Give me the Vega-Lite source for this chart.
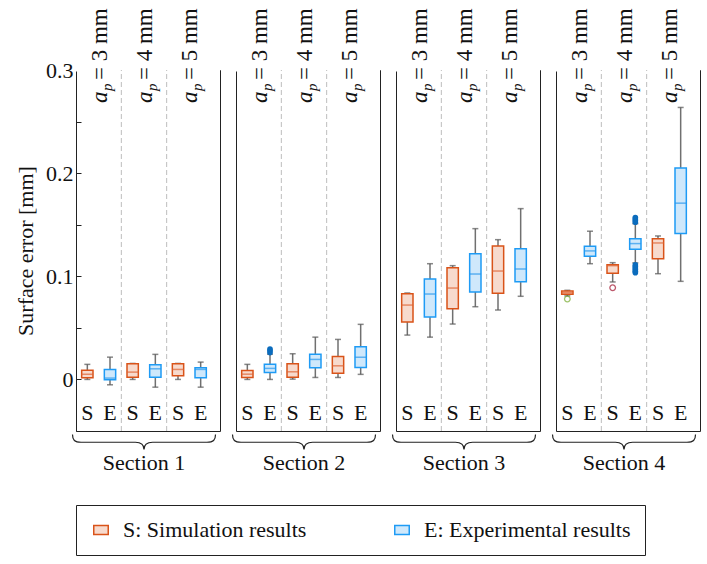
{
  "$schema": "https://vega.github.io/schema/vega-lite/v6.json",
  "padding": {"left": 14, "top": 7, "right": 5, "bottom": 0},
  "config": {
    "font": "Liberation Serif",
    "view": {"stroke": "#222", "strokeWidth": 1},
    "axisY": {
      "labelFont": "Liberation Serif", "labelFontSize": 22, "labelColor": "#111",
      "titleFont": "Liberation Serif", "titleFontSize": 22, "titleFontWeight": "normal", "titleColor": "#111",
      "tickColor": "#222", "domainColor": "#222", "tickSize": -5, "labelPadding": 8, "titlePadding": 8,
      "grid": false, "zindex": 1
    },
    "legend": {
      "orient": "bottom", "direction": "horizontal",
      "labelFont": "Liberation Serif", "labelFontSize": 22, "labelColor": "#111", "labelOffset": 11, "labelLimit": 500,
      "symbolType": "M-1,-0.62H1V0.62H-1Z", "symbolSize": 210, "symbolStrokeWidth": 1.5,
      "strokeColor": "#222", "padding": 14, "columnPadding": 84, "offset": 30
    }
  },
  "data": {"values": [
    {"kind": "box", "section": "Section 1", "ap": "3", "type": "S", "lo": 0, "q1": 0.0016, "med": 0.005, "q3": 0.009, "hi": 0.0146},
    {"kind": "box", "section": "Section 1", "ap": "3", "type": "E", "lo": -0.0052, "q1": -0.0003, "med": 0.0013, "q3": 0.0097, "hi": 0.0216},
    {"kind": "box", "section": "Section 1", "ap": "4", "type": "S", "lo": 0, "q1": 0.0022, "med": 0.0071, "q3": 0.0151, "hi": 0.0155},
    {"kind": "box", "section": "Section 1", "ap": "4", "type": "E", "lo": -0.0075, "q1": 0.0022, "med": 0.0103, "q3": 0.0142, "hi": 0.0243},
    {"kind": "box", "section": "Section 1", "ap": "5", "type": "S", "lo": 0, "q1": 0.0035, "med": 0.0097, "q3": 0.0151, "hi": 0.0155},
    {"kind": "box", "section": "Section 1", "ap": "5", "type": "E", "lo": -0.0075, "q1": 0.0016, "med": 0.0097, "q3": 0.0113, "hi": 0.0168},
    {"kind": "box", "section": "Section 2", "ap": "3", "type": "S", "lo": 0, "q1": 0.0019, "med": 0.0051, "q3": 0.0087, "hi": 0.0146},
    {"kind": "box", "section": "Section 2", "ap": "3", "type": "E", "lo": 0, "q1": 0.0068, "med": 0.0107, "q3": 0.0146, "hi": 0.0245},
    {"kind": "box", "section": "Section 2", "ap": "4", "type": "S", "lo": 0.0003, "q1": 0.0022, "med": 0.0074, "q3": 0.0151, "hi": 0.0249},
    {"kind": "box", "section": "Section 2", "ap": "4", "type": "E", "lo": 0.0019, "q1": 0.0113, "med": 0.0194, "q3": 0.0243, "hi": 0.041},
    {"kind": "box", "section": "Section 2", "ap": "5", "type": "S", "lo": 0.0019, "q1": 0.0061, "med": 0.0132, "q3": 0.0223, "hi": 0.0388},
    {"kind": "box", "section": "Section 2", "ap": "5", "type": "E", "lo": 0.0049, "q1": 0.0116, "med": 0.0216, "q3": 0.0316, "hi": 0.0534},
    {"kind": "box", "section": "Section 3", "ap": "3", "type": "S", "lo": 0.043, "q1": 0.0556, "med": 0.0721, "q3": 0.0831, "hi": 0.0838},
    {"kind": "box", "section": "Section 3", "ap": "3", "type": "E", "lo": 0.041, "q1": 0.0605, "med": 0.0828, "q3": 0.0974, "hi": 0.1122},
    {"kind": "box", "section": "Section 3", "ap": "4", "type": "S", "lo": 0.0537, "q1": 0.0685, "med": 0.0886, "q3": 0.1083, "hi": 0.1103},
    {"kind": "box", "section": "Section 3", "ap": "4", "type": "E", "lo": 0.0705, "q1": 0.0848, "med": 0.1022, "q3": 0.1219, "hi": 0.1462},
    {"kind": "box", "section": "Section 3", "ap": "5", "type": "S", "lo": 0.0673, "q1": 0.0835, "med": 0.1051, "q3": 0.1294, "hi": 0.1355},
    {"kind": "box", "section": "Section 3", "ap": "5", "type": "E", "lo": 0.0806, "q1": 0.0948, "med": 0.1071, "q3": 0.1268, "hi": 0.1656},
    {"kind": "box", "section": "Section 4", "ap": "3", "type": "S", "lo": 0.081, "q1": 0.0825, "med": 0.0841, "q3": 0.0857, "hi": 0.0864},
    {"kind": "box", "section": "Section 4", "ap": "3", "type": "E", "lo": 0.1122, "q1": 0.1194, "med": 0.1246, "q3": 0.1291, "hi": 0.1437},
    {"kind": "box", "section": "Section 4", "ap": "4", "type": "S", "lo": 0.0945, "q1": 0.1029, "med": 0.1103, "q3": 0.1113, "hi": 0.1132},
    {"kind": "box", "section": "Section 4", "ap": "4", "type": "E", "lo": 0.113, "q1": 0.1262, "med": 0.1317, "q3": 0.1365, "hi": 0.151},
    {"kind": "box", "section": "Section 4", "ap": "5", "type": "S", "lo": 0.1025, "q1": 0.1171, "med": 0.1323, "q3": 0.1365, "hi": 0.1391},
    {"kind": "box", "section": "Section 4", "ap": "5", "type": "E", "lo": 0.0951, "q1": 0.1414, "med": 0.1709, "q3": 0.2051, "hi": 0.2637},
    {"kind": "out", "section": "Section 2", "ap": "3", "type": "E", "v": 0.026},
    {"kind": "out", "section": "Section 2", "ap": "3", "type": "E", "v": 0.028},
    {"kind": "out", "section": "Section 2", "ap": "3", "type": "E", "v": 0.0295},
    {"kind": "out", "section": "Section 4", "ap": "3", "type": "S", "v": 0.078},
    {"kind": "out", "section": "Section 4", "ap": "4", "type": "S", "v": 0.0889},
    {"kind": "out", "section": "Section 4", "ap": "4", "type": "E", "v": 0.1525},
    {"kind": "out", "section": "Section 4", "ap": "4", "type": "E", "v": 0.154},
    {"kind": "out", "section": "Section 4", "ap": "4", "type": "E", "v": 0.1555},
    {"kind": "out", "section": "Section 4", "ap": "4", "type": "E", "v": 0.157},
    {"kind": "out", "section": "Section 4", "ap": "4", "type": "E", "v": 0.1035},
    {"kind": "out", "section": "Section 4", "ap": "4", "type": "E", "v": 0.105},
    {"kind": "out", "section": "Section 4", "ap": "4", "type": "E", "v": 0.1065},
    {"kind": "out", "section": "Section 4", "ap": "4", "type": "E", "v": 0.108},
    {"kind": "out", "section": "Section 4", "ap": "4", "type": "E", "v": 0.1095},
    {"kind": "out", "section": "Section 4", "ap": "4", "type": "E", "v": 0.111}
  ]},
  "transform": [{"calculate": "datum.ap + datum.type", "as": "slot"}, {"calculate": "'= ' + datum.ap + ' mm'", "as": "aplabel"}],
  "spacing": 16,
  "bounds": "flush",
  "resolve": {"scale": {"fill": "shared", "stroke": "shared", "color": "shared"}, "legend": {"fill": "shared", "stroke": "shared"}},
  "hconcat": [
    {
      "width": 144, "height": 361,
      "transform": [{"filter": "datum.section=='Section 1'"}],
      "resolve": {"axis": {"y": "independent"}},
      "layer": [
        {"transform": [{"filter": "datum.kind=='box'"}], "mark": {"type": "rule", "stroke": "#707070", "strokeWidth": 1.5},
         "encoding": {"x": {"field": "slot", "type": "nominal", "axis": null, "scale": {"domain": ["3S", "3E", "4S", "4E", "5S", "5E"], "range": [0, 136], "paddingInner": 0.5, "paddingOuter": 0.25}},
           "y": {"field": "lo", "type": "quantitative", "scale": {"domain": [-0.05, 0.3], "nice": false, "zero": false},
             "axis": {"orient": "left", "title": "Surface error [mm]", "values": [0, 0.05, 0.1, 0.15, 0.2, 0.25, 0.3], "labelExpr": "round(datum.value*100) % 10 == 0 ? format(datum.value, '~g') : ''"}},
           "y2": {"field": "hi"}}},
        {"transform": [{"filter": "datum.kind=='box' && datum.slot=='4S'"}], "mark": {"type": "rule", "stroke": "white", "strokeWidth": 3},
         "encoding": {"y": {"datum": 0.3, "type": "quantitative", "axis": null}}},
        {"transform": [{"filter": "datum.kind=='box' && (datum.slot=='3E' || datum.slot=='4E')"}], "mark": {"type": "rule", "stroke": "#bdbdbd", "strokeWidth": 1, "strokeDash": [5, 3]},
         "encoding": {"x": {"field": "slot", "type": "nominal", "bandPosition": 1.5, "axis": null}, "y": {"datum": -0.05, "type": "quantitative", "axis": null}, "y2": {"datum": 0.3}}},
        {"transform": [{"filter": "datum.kind=='box'"}], "mark": {"type": "tick", "size": 6, "thickness": 1.5, "color": "#555"},
         "encoding": {"x": {"field": "slot", "type": "nominal", "axis": null}, "y": {"field": "lo", "type": "quantitative", "axis": null}}},
        {"transform": [{"filter": "datum.kind=='box'"}], "mark": {"type": "tick", "size": 6, "thickness": 1.5, "color": "#555"},
         "encoding": {"x": {"field": "slot", "type": "nominal", "axis": null}, "y": {"field": "hi", "type": "quantitative", "axis": null}}},
        {"transform": [{"filter": "datum.kind=='box'"}], "mark": {"type": "bar", "strokeWidth": 1.5},
         "encoding": {"x": {"field": "slot", "type": "nominal", "axis": null}, "y": {"field": "q1", "type": "quantitative", "axis": null}, "y2": {"field": "q3"},
           "fill": {"field": "type", "type": "nominal", "scale": {"domain": ["S", "E"], "range": ["#F7DACD", "#CFE8FB"]},
             "legend": {"title": null, "labelExpr": "datum.label == 'S' ? 'S: Simulation results' : 'E: Experimental results'"}},
           "stroke": {"field": "type", "type": "nominal", "scale": {"domain": ["S", "E"], "range": ["#D95319", "#1E9BF5"]},
             "legend": {"title": null, "labelExpr": "datum.label == 'S' ? 'S: Simulation results' : 'E: Experimental results'"}}}},
        {"transform": [{"filter": "datum.kind=='box'"}], "mark": {"type": "tick", "size": 11.5, "thickness": 1.5},
         "encoding": {"x": {"field": "slot", "type": "nominal", "axis": null}, "y": {"field": "med", "type": "quantitative", "axis": null},
           "color": {"field": "type", "type": "nominal", "scale": {"domain": ["S", "E"], "range": ["#DE6536", "#2A98EC"]}, "legend": null}}},
        {"transform": [{"filter": "datum.kind=='box'"}], "mark": {"type": "text", "fontSize": 22, "baseline": "middle", "color": "#111"},
         "encoding": {"x": {"field": "slot", "type": "nominal", "axis": null}, "y": {"datum": -0.033, "type": "quantitative", "axis": null}, "text": {"field": "type"}}},
        {"transform": [{"filter": "datum.kind=='box' && datum.type=='S'"}], "mark": {"type": "text", "fontSize": 23, "fontStyle": "italic", "angle": 270, "align": "left", "baseline": "alphabetic", "dx": -33, "dy": 8, "color": "#111"},
         "encoding": {"x": {"field": "slot", "type": "nominal", "bandPosition": 1.5, "axis": null}, "y": {"datum": 0.3, "type": "quantitative", "axis": null}, "text": {"value": "a"}}},
        {"transform": [{"filter": "datum.kind=='box' && datum.type=='S'"}], "mark": {"type": "text", "fontSize": 15, "fontStyle": "italic", "angle": 270, "align": "left", "baseline": "alphabetic", "dx": -21, "dy": 13, "color": "#111"},
         "encoding": {"x": {"field": "slot", "type": "nominal", "bandPosition": 1.5, "axis": null}, "y": {"datum": 0.3, "type": "quantitative", "axis": null}, "text": {"value": "p"}}},
        {"transform": [{"filter": "datum.kind=='box' && datum.type=='S'"}], "mark": {"type": "text", "fontSize": 23, "angle": 270, "align": "left", "baseline": "alphabetic", "dx": -10, "dy": 8, "color": "#111"},
         "encoding": {"x": {"field": "slot", "type": "nominal", "bandPosition": 1.5, "axis": null}, "y": {"datum": 0.3, "type": "quantitative", "axis": null}, "text": {"field": "aplabel"}}},
        {"transform": [{"filter": "datum.kind=='box' && datum.slot=='4S'"}], "mark": {"type": "point", "filled": false, "stroke": "#222", "strokeWidth": 1.2, "opacity": 1, "size": 20449, "shape": "M -1 -0.11 C -1 -0.03 -0.97 0 -0.88 0 L -0.12 0 C -0.04 0 0 0.04 0 0.1 C 0 0.04 0.04 0 0.12 0 L 0.88 0 C 0.97 0 1 -0.03 1 -0.11"},
         "encoding": {"x": {"field": "slot", "type": "nominal", "bandPosition": 1.5, "axis": null}, "y": {"datum": -0.0609, "type": "quantitative", "axis": null}}},
        {"transform": [{"filter": "datum.kind=='box' && datum.slot=='4S'"}], "mark": {"type": "text", "fontSize": 22, "baseline": "middle", "color": "#111"},
         "encoding": {"x": {"field": "slot", "type": "nominal", "bandPosition": 1.5, "axis": null}, "y": {"datum": -0.0813, "type": "quantitative", "axis": null}, "text": {"field": "section"}}}
      ]
    },
    {
      "width": 144, "height": 361,
      "transform": [{"filter": "datum.section=='Section 2'"}],
      "layer": [
        {"transform": [{"filter": "datum.kind=='box'"}], "mark": {"type": "rule", "stroke": "#707070", "strokeWidth": 1.5},
         "encoding": {"x": {"field": "slot", "type": "nominal", "axis": null, "scale": {"domain": ["3S", "3E", "4S", "4E", "5S", "5E"], "range": [0, 136], "paddingInner": 0.5, "paddingOuter": 0.25}},
           "y": {"field": "lo", "type": "quantitative", "scale": {"domain": [-0.05, 0.3], "nice": false, "zero": false}, "axis": null},
           "y2": {"field": "hi"}}},
        {"transform": [{"filter": "datum.kind=='box' && datum.slot=='4S'"}], "mark": {"type": "rule", "stroke": "white", "strokeWidth": 3},
         "encoding": {"y": {"datum": 0.3, "type": "quantitative", "axis": null}}},
        {"transform": [{"filter": "datum.kind=='box' && (datum.slot=='3E' || datum.slot=='4E')"}], "mark": {"type": "rule", "stroke": "#bdbdbd", "strokeWidth": 1, "strokeDash": [5, 3]},
         "encoding": {"x": {"field": "slot", "type": "nominal", "bandPosition": 1.5, "axis": null}, "y": {"datum": -0.05, "type": "quantitative", "axis": null}, "y2": {"datum": 0.3}}},
        {"transform": [{"filter": "datum.kind=='box'"}], "mark": {"type": "tick", "size": 6, "thickness": 1.5, "color": "#555"},
         "encoding": {"x": {"field": "slot", "type": "nominal", "axis": null}, "y": {"field": "lo", "type": "quantitative", "axis": null}}},
        {"transform": [{"filter": "datum.kind=='box'"}], "mark": {"type": "tick", "size": 6, "thickness": 1.5, "color": "#555"},
         "encoding": {"x": {"field": "slot", "type": "nominal", "axis": null}, "y": {"field": "hi", "type": "quantitative", "axis": null}}},
        {"transform": [{"filter": "datum.kind=='box'"}], "mark": {"type": "bar", "strokeWidth": 1.5},
         "encoding": {"x": {"field": "slot", "type": "nominal", "axis": null}, "y": {"field": "q1", "type": "quantitative", "axis": null}, "y2": {"field": "q3"},
           "fill": {"field": "type", "type": "nominal", "scale": {"domain": ["S", "E"], "range": ["#F7DACD", "#CFE8FB"]},
             "legend": {"title": null, "labelExpr": "datum.label == 'S' ? 'S: Simulation results' : 'E: Experimental results'"}},
           "stroke": {"field": "type", "type": "nominal", "scale": {"domain": ["S", "E"], "range": ["#D95319", "#1E9BF5"]},
             "legend": {"title": null, "labelExpr": "datum.label == 'S' ? 'S: Simulation results' : 'E: Experimental results'"}}}},
        {"transform": [{"filter": "datum.kind=='box'"}], "mark": {"type": "tick", "size": 11.5, "thickness": 1.5},
         "encoding": {"x": {"field": "slot", "type": "nominal", "axis": null}, "y": {"field": "med", "type": "quantitative", "axis": null},
           "color": {"field": "type", "type": "nominal", "scale": {"domain": ["S", "E"], "range": ["#DE6536", "#2A98EC"]}, "legend": null}}},
        {"transform": [{"filter": "datum.kind=='out' && datum.type=='E'"}], "mark": {"type": "point", "filled": true, "size": 32, "color": "#0B6CBD", "opacity": 1},
         "encoding": {"x": {"field": "slot", "type": "nominal", "axis": null}, "y": {"field": "v", "type": "quantitative", "axis": null}}},
        {"transform": [{"filter": "datum.kind=='box'"}], "mark": {"type": "text", "fontSize": 22, "baseline": "middle", "color": "#111"},
         "encoding": {"x": {"field": "slot", "type": "nominal", "axis": null}, "y": {"datum": -0.033, "type": "quantitative", "axis": null}, "text": {"field": "type"}}},
        {"transform": [{"filter": "datum.kind=='box' && datum.type=='S'"}], "mark": {"type": "text", "fontSize": 23, "fontStyle": "italic", "angle": 270, "align": "left", "baseline": "alphabetic", "dx": -33, "dy": 8, "color": "#111"},
         "encoding": {"x": {"field": "slot", "type": "nominal", "bandPosition": 1.5, "axis": null}, "y": {"datum": 0.3, "type": "quantitative", "axis": null}, "text": {"value": "a"}}},
        {"transform": [{"filter": "datum.kind=='box' && datum.type=='S'"}], "mark": {"type": "text", "fontSize": 15, "fontStyle": "italic", "angle": 270, "align": "left", "baseline": "alphabetic", "dx": -21, "dy": 13, "color": "#111"},
         "encoding": {"x": {"field": "slot", "type": "nominal", "bandPosition": 1.5, "axis": null}, "y": {"datum": 0.3, "type": "quantitative", "axis": null}, "text": {"value": "p"}}},
        {"transform": [{"filter": "datum.kind=='box' && datum.type=='S'"}], "mark": {"type": "text", "fontSize": 23, "angle": 270, "align": "left", "baseline": "alphabetic", "dx": -10, "dy": 8, "color": "#111"},
         "encoding": {"x": {"field": "slot", "type": "nominal", "bandPosition": 1.5, "axis": null}, "y": {"datum": 0.3, "type": "quantitative", "axis": null}, "text": {"field": "aplabel"}}},
        {"transform": [{"filter": "datum.kind=='box' && datum.slot=='4S'"}], "mark": {"type": "point", "filled": false, "stroke": "#222", "strokeWidth": 1.2, "opacity": 1, "size": 20449, "shape": "M -1 -0.11 C -1 -0.03 -0.97 0 -0.88 0 L -0.12 0 C -0.04 0 0 0.04 0 0.1 C 0 0.04 0.04 0 0.12 0 L 0.88 0 C 0.97 0 1 -0.03 1 -0.11"},
         "encoding": {"x": {"field": "slot", "type": "nominal", "bandPosition": 1.5, "axis": null}, "y": {"datum": -0.0609, "type": "quantitative", "axis": null}}},
        {"transform": [{"filter": "datum.kind=='box' && datum.slot=='4S'"}], "mark": {"type": "text", "fontSize": 22, "baseline": "middle", "color": "#111"},
         "encoding": {"x": {"field": "slot", "type": "nominal", "bandPosition": 1.5, "axis": null}, "y": {"datum": -0.0813, "type": "quantitative", "axis": null}, "text": {"field": "section"}}}
      ]
    },
    {
      "width": 144, "height": 361,
      "transform": [{"filter": "datum.section=='Section 3'"}],
      "layer": [
        {"transform": [{"filter": "datum.kind=='box'"}], "mark": {"type": "rule", "stroke": "#707070", "strokeWidth": 1.5},
         "encoding": {"x": {"field": "slot", "type": "nominal", "axis": null, "scale": {"domain": ["3S", "3E", "4S", "4E", "5S", "5E"], "range": [0, 136], "paddingInner": 0.5, "paddingOuter": 0.25}},
           "y": {"field": "lo", "type": "quantitative", "scale": {"domain": [-0.05, 0.3], "nice": false, "zero": false}, "axis": null},
           "y2": {"field": "hi"}}},
        {"transform": [{"filter": "datum.kind=='box' && datum.slot=='4S'"}], "mark": {"type": "rule", "stroke": "white", "strokeWidth": 3},
         "encoding": {"y": {"datum": 0.3, "type": "quantitative", "axis": null}}},
        {"transform": [{"filter": "datum.kind=='box' && (datum.slot=='3E' || datum.slot=='4E')"}], "mark": {"type": "rule", "stroke": "#bdbdbd", "strokeWidth": 1, "strokeDash": [5, 3]},
         "encoding": {"x": {"field": "slot", "type": "nominal", "bandPosition": 1.5, "axis": null}, "y": {"datum": -0.05, "type": "quantitative", "axis": null}, "y2": {"datum": 0.3}}},
        {"transform": [{"filter": "datum.kind=='box'"}], "mark": {"type": "tick", "size": 6, "thickness": 1.5, "color": "#555"},
         "encoding": {"x": {"field": "slot", "type": "nominal", "axis": null}, "y": {"field": "lo", "type": "quantitative", "axis": null}}},
        {"transform": [{"filter": "datum.kind=='box'"}], "mark": {"type": "tick", "size": 6, "thickness": 1.5, "color": "#555"},
         "encoding": {"x": {"field": "slot", "type": "nominal", "axis": null}, "y": {"field": "hi", "type": "quantitative", "axis": null}}},
        {"transform": [{"filter": "datum.kind=='box'"}], "mark": {"type": "bar", "strokeWidth": 1.5},
         "encoding": {"x": {"field": "slot", "type": "nominal", "axis": null}, "y": {"field": "q1", "type": "quantitative", "axis": null}, "y2": {"field": "q3"},
           "fill": {"field": "type", "type": "nominal", "scale": {"domain": ["S", "E"], "range": ["#F7DACD", "#CFE8FB"]},
             "legend": {"title": null, "labelExpr": "datum.label == 'S' ? 'S: Simulation results' : 'E: Experimental results'"}},
           "stroke": {"field": "type", "type": "nominal", "scale": {"domain": ["S", "E"], "range": ["#D95319", "#1E9BF5"]},
             "legend": {"title": null, "labelExpr": "datum.label == 'S' ? 'S: Simulation results' : 'E: Experimental results'"}}}},
        {"transform": [{"filter": "datum.kind=='box'"}], "mark": {"type": "tick", "size": 11.5, "thickness": 1.5},
         "encoding": {"x": {"field": "slot", "type": "nominal", "axis": null}, "y": {"field": "med", "type": "quantitative", "axis": null},
           "color": {"field": "type", "type": "nominal", "scale": {"domain": ["S", "E"], "range": ["#DE6536", "#2A98EC"]}, "legend": null}}},
        {"transform": [{"filter": "datum.kind=='box'"}], "mark": {"type": "text", "fontSize": 22, "baseline": "middle", "color": "#111"},
         "encoding": {"x": {"field": "slot", "type": "nominal", "axis": null}, "y": {"datum": -0.033, "type": "quantitative", "axis": null}, "text": {"field": "type"}}},
        {"transform": [{"filter": "datum.kind=='box' && datum.type=='S'"}], "mark": {"type": "text", "fontSize": 23, "fontStyle": "italic", "angle": 270, "align": "left", "baseline": "alphabetic", "dx": -33, "dy": 8, "color": "#111"},
         "encoding": {"x": {"field": "slot", "type": "nominal", "bandPosition": 1.5, "axis": null}, "y": {"datum": 0.3, "type": "quantitative", "axis": null}, "text": {"value": "a"}}},
        {"transform": [{"filter": "datum.kind=='box' && datum.type=='S'"}], "mark": {"type": "text", "fontSize": 15, "fontStyle": "italic", "angle": 270, "align": "left", "baseline": "alphabetic", "dx": -21, "dy": 13, "color": "#111"},
         "encoding": {"x": {"field": "slot", "type": "nominal", "bandPosition": 1.5, "axis": null}, "y": {"datum": 0.3, "type": "quantitative", "axis": null}, "text": {"value": "p"}}},
        {"transform": [{"filter": "datum.kind=='box' && datum.type=='S'"}], "mark": {"type": "text", "fontSize": 23, "angle": 270, "align": "left", "baseline": "alphabetic", "dx": -10, "dy": 8, "color": "#111"},
         "encoding": {"x": {"field": "slot", "type": "nominal", "bandPosition": 1.5, "axis": null}, "y": {"datum": 0.3, "type": "quantitative", "axis": null}, "text": {"field": "aplabel"}}},
        {"transform": [{"filter": "datum.kind=='box' && datum.slot=='4S'"}], "mark": {"type": "point", "filled": false, "stroke": "#222", "strokeWidth": 1.2, "opacity": 1, "size": 20449, "shape": "M -1 -0.11 C -1 -0.03 -0.97 0 -0.88 0 L -0.12 0 C -0.04 0 0 0.04 0 0.1 C 0 0.04 0.04 0 0.12 0 L 0.88 0 C 0.97 0 1 -0.03 1 -0.11"},
         "encoding": {"x": {"field": "slot", "type": "nominal", "bandPosition": 1.5, "axis": null}, "y": {"datum": -0.0609, "type": "quantitative", "axis": null}}},
        {"transform": [{"filter": "datum.kind=='box' && datum.slot=='4S'"}], "mark": {"type": "text", "fontSize": 22, "baseline": "middle", "color": "#111"},
         "encoding": {"x": {"field": "slot", "type": "nominal", "bandPosition": 1.5, "axis": null}, "y": {"datum": -0.0813, "type": "quantitative", "axis": null}, "text": {"field": "section"}}}
      ]
    },
    {
      "width": 144, "height": 361,
      "transform": [{"filter": "datum.section=='Section 4'"}],
      "layer": [
        {"transform": [{"filter": "datum.kind=='box'"}], "mark": {"type": "rule", "stroke": "#707070", "strokeWidth": 1.5},
         "encoding": {"x": {"field": "slot", "type": "nominal", "axis": null, "scale": {"domain": ["3S", "3E", "4S", "4E", "5S", "5E"], "range": [0, 136], "paddingInner": 0.5, "paddingOuter": 0.25}},
           "y": {"field": "lo", "type": "quantitative", "scale": {"domain": [-0.05, 0.3], "nice": false, "zero": false}, "axis": null},
           "y2": {"field": "hi"}}},
        {"transform": [{"filter": "datum.kind=='box' && datum.slot=='4S'"}], "mark": {"type": "rule", "stroke": "white", "strokeWidth": 3},
         "encoding": {"y": {"datum": 0.3, "type": "quantitative", "axis": null}}},
        {"transform": [{"filter": "datum.kind=='box' && (datum.slot=='3E' || datum.slot=='4E')"}], "mark": {"type": "rule", "stroke": "#bdbdbd", "strokeWidth": 1, "strokeDash": [5, 3]},
         "encoding": {"x": {"field": "slot", "type": "nominal", "bandPosition": 1.5, "axis": null}, "y": {"datum": -0.05, "type": "quantitative", "axis": null}, "y2": {"datum": 0.3}}},
        {"transform": [{"filter": "datum.kind=='box'"}], "mark": {"type": "tick", "size": 6, "thickness": 1.5, "color": "#555"},
         "encoding": {"x": {"field": "slot", "type": "nominal", "axis": null}, "y": {"field": "lo", "type": "quantitative", "axis": null}}},
        {"transform": [{"filter": "datum.kind=='box'"}], "mark": {"type": "tick", "size": 6, "thickness": 1.5, "color": "#555"},
         "encoding": {"x": {"field": "slot", "type": "nominal", "axis": null}, "y": {"field": "hi", "type": "quantitative", "axis": null}}},
        {"transform": [{"filter": "datum.kind=='box'"}], "mark": {"type": "bar", "strokeWidth": 1.5},
         "encoding": {"x": {"field": "slot", "type": "nominal", "axis": null}, "y": {"field": "q1", "type": "quantitative", "axis": null}, "y2": {"field": "q3"},
           "fill": {"field": "type", "type": "nominal", "scale": {"domain": ["S", "E"], "range": ["#F7DACD", "#CFE8FB"]},
             "legend": {"title": null, "labelExpr": "datum.label == 'S' ? 'S: Simulation results' : 'E: Experimental results'"}},
           "stroke": {"field": "type", "type": "nominal", "scale": {"domain": ["S", "E"], "range": ["#D95319", "#1E9BF5"]},
             "legend": {"title": null, "labelExpr": "datum.label == 'S' ? 'S: Simulation results' : 'E: Experimental results'"}}}},
        {"transform": [{"filter": "datum.kind=='box'"}], "mark": {"type": "tick", "size": 11.5, "thickness": 1.5},
         "encoding": {"x": {"field": "slot", "type": "nominal", "axis": null}, "y": {"field": "med", "type": "quantitative", "axis": null},
           "color": {"field": "type", "type": "nominal", "scale": {"domain": ["S", "E"], "range": ["#DE6536", "#2A98EC"]}, "legend": null}}},
        {"transform": [{"filter": "datum.kind=='out' && datum.type=='S'"}], "mark": {"type": "point", "filled": false, "size": 32, "strokeWidth": 1.3},
         "encoding": {"x": {"field": "slot", "type": "nominal", "axis": null}, "y": {"field": "v", "type": "quantitative", "axis": null},
           "stroke": {"condition": {"test": "datum.ap=='3'", "value": "#77AC30"}, "value": "#A2142F"}}},
        {"transform": [{"filter": "datum.kind=='out' && datum.type=='E'"}], "mark": {"type": "point", "filled": true, "size": 32, "color": "#0B6CBD", "opacity": 1},
         "encoding": {"x": {"field": "slot", "type": "nominal", "axis": null}, "y": {"field": "v", "type": "quantitative", "axis": null}}},
        {"transform": [{"filter": "datum.kind=='box'"}], "mark": {"type": "text", "fontSize": 22, "baseline": "middle", "color": "#111"},
         "encoding": {"x": {"field": "slot", "type": "nominal", "axis": null}, "y": {"datum": -0.033, "type": "quantitative", "axis": null}, "text": {"field": "type"}}},
        {"transform": [{"filter": "datum.kind=='box' && datum.type=='S'"}], "mark": {"type": "text", "fontSize": 23, "fontStyle": "italic", "angle": 270, "align": "left", "baseline": "alphabetic", "dx": -33, "dy": 8, "color": "#111"},
         "encoding": {"x": {"field": "slot", "type": "nominal", "bandPosition": 1.5, "axis": null}, "y": {"datum": 0.3, "type": "quantitative", "axis": null}, "text": {"value": "a"}}},
        {"transform": [{"filter": "datum.kind=='box' && datum.type=='S'"}], "mark": {"type": "text", "fontSize": 15, "fontStyle": "italic", "angle": 270, "align": "left", "baseline": "alphabetic", "dx": -21, "dy": 13, "color": "#111"},
         "encoding": {"x": {"field": "slot", "type": "nominal", "bandPosition": 1.5, "axis": null}, "y": {"datum": 0.3, "type": "quantitative", "axis": null}, "text": {"value": "p"}}},
        {"transform": [{"filter": "datum.kind=='box' && datum.type=='S'"}], "mark": {"type": "text", "fontSize": 23, "angle": 270, "align": "left", "baseline": "alphabetic", "dx": -10, "dy": 8, "color": "#111"},
         "encoding": {"x": {"field": "slot", "type": "nominal", "bandPosition": 1.5, "axis": null}, "y": {"datum": 0.3, "type": "quantitative", "axis": null}, "text": {"field": "aplabel"}}},
        {"transform": [{"filter": "datum.kind=='box' && datum.slot=='4S'"}], "mark": {"type": "point", "filled": false, "stroke": "#222", "strokeWidth": 1.2, "opacity": 1, "size": 20449, "shape": "M -1 -0.11 C -1 -0.03 -0.97 0 -0.88 0 L -0.12 0 C -0.04 0 0 0.04 0 0.1 C 0 0.04 0.04 0 0.12 0 L 0.88 0 C 0.97 0 1 -0.03 1 -0.11"},
         "encoding": {"x": {"field": "slot", "type": "nominal", "bandPosition": 1.5, "axis": null}, "y": {"datum": -0.0609, "type": "quantitative", "axis": null}}},
        {"transform": [{"filter": "datum.kind=='box' && datum.slot=='4S'"}], "mark": {"type": "text", "fontSize": 22, "baseline": "middle", "color": "#111"},
         "encoding": {"x": {"field": "slot", "type": "nominal", "bandPosition": 1.5, "axis": null}, "y": {"datum": -0.0813, "type": "quantitative", "axis": null}, "text": {"field": "section"}}}
      ]
    }
  ]
}
